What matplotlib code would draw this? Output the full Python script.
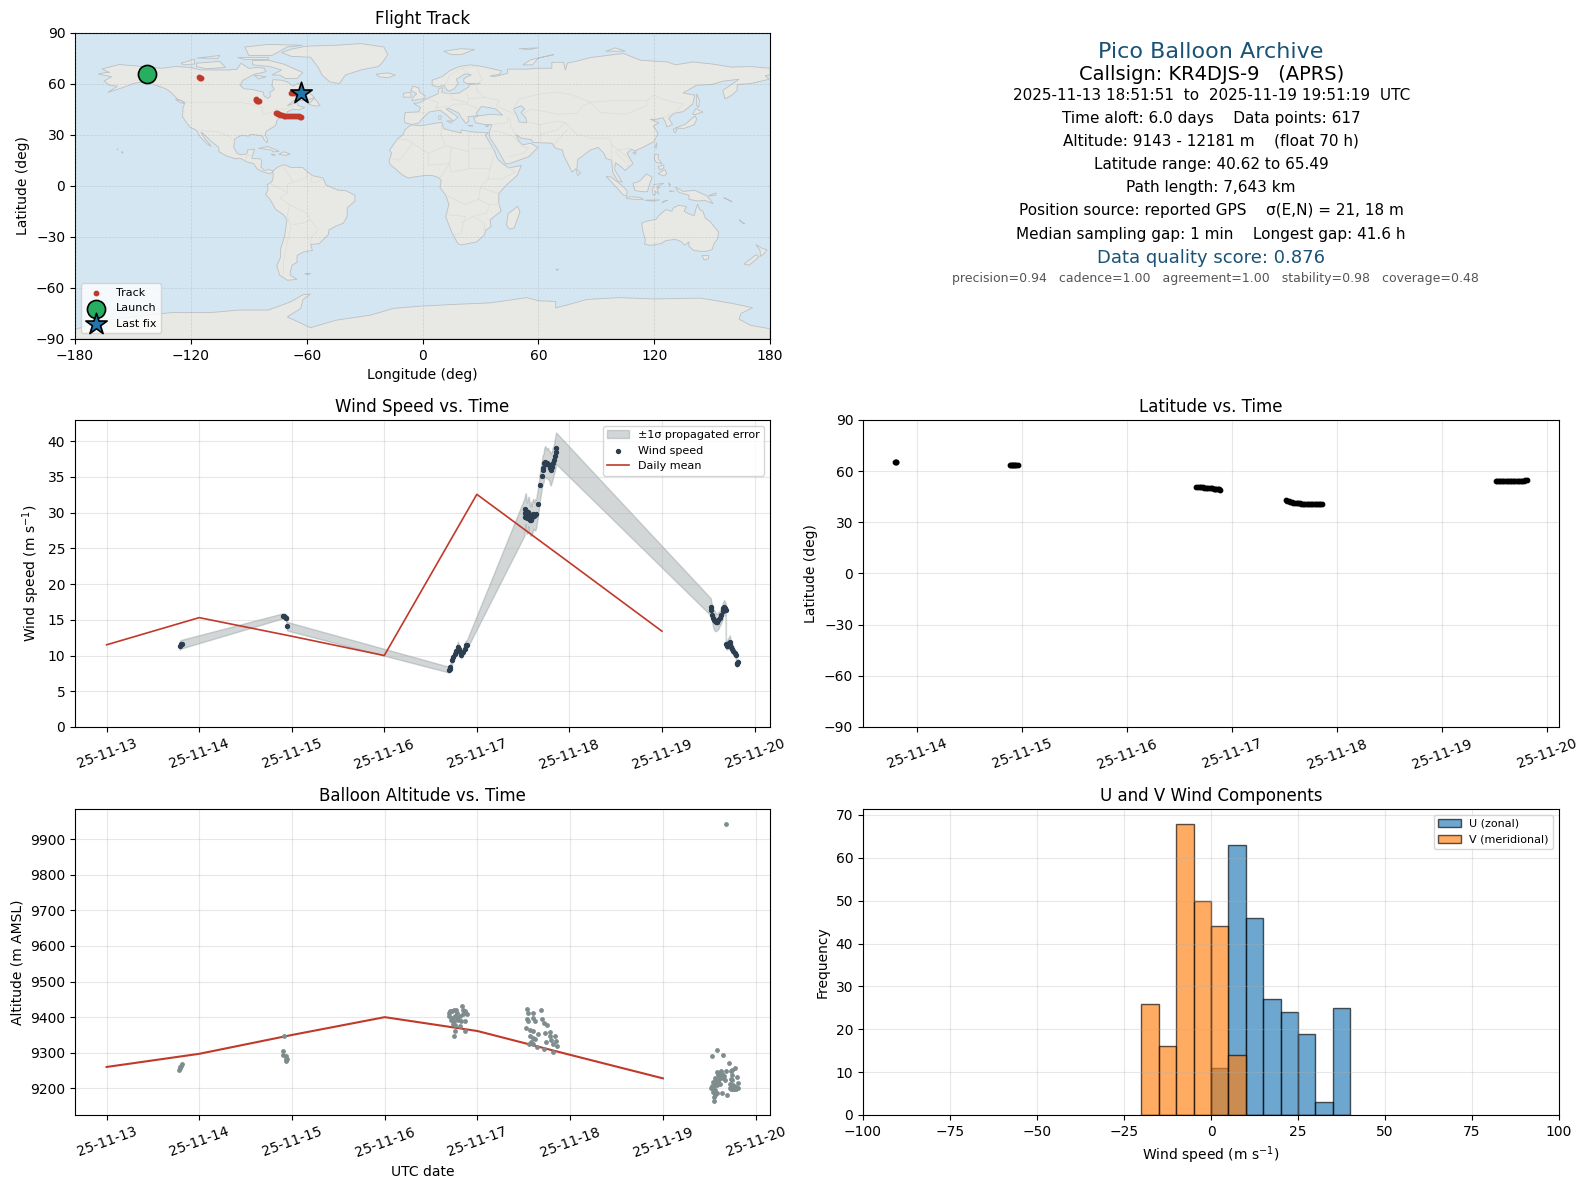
from datetime import datetime

import matplotlib
matplotlib.use('Agg')
import matplotlib.dates as mdates
import matplotlib.pyplot as plt
import numpy as np
from matplotlib.patches import Polygon

# map outlines, (lon, lat), read by eye
north_america = [(-168, 65.6), (-164, 66.5), (-162, 66.5), (-166, 68.5), (-163, 69.5), (-157, 71.2), (-150, 70.5), (-141, 69.7), (-135, 69), (-128, 70), (-120, 69.5), (-115, 68), (-108, 68), (-100, 68), (-96, 68.5), (-94, 72), (-90, 69), (-85, 69.5), (-82, 69), (-81, 67), (-87, 65.5), (-93, 62), (-94.5, 59), (-92.5, 57), (-88, 56.5), (-82.5, 55), (-82, 52.5), (-80, 51.3), (-78.8, 52.5), (-79, 55), (-76.7, 56.5), (-78, 58.8), (-77.5, 62.3), (-73, 62), (-70, 61), (-67, 58.5), (-64.5, 60.3), (-61.5, 56.5), (-57, 53), (-56, 51.8), (-60, 50.2), (-66.5, 50.2), (-70, 47), (-65, 49), (-64.5, 47), (-61, 46), (-64, 44.5), (-67, 45), (-70, 43.5), (-70.5, 41.7), (-74, 40.6), (-75.5, 38), (-76, 35.5), (-78, 34), (-81, 32), (-81.5, 30), (-80.2, 27), (-80.5, 25.2), (-82, 27), (-83, 29.2), (-85, 29.7), (-89, 30.2), (-90, 29.2), (-94, 29.5), (-97.2, 27.5), (-97.8, 22.5), (-96, 19), (-94, 18.2), (-91, 18.7), (-90.5, 21), (-87, 21.5), (-88, 18), (-88.5, 16), (-84, 15.8), (-83.3, 14.8), (-83.7, 11), (-82, 9), (-79.5, 9.5), (-77.4, 8.6), (-78, 7.5), (-80, 7.3), (-81.5, 7.8), (-83, 8.3), (-85.7, 10), (-87.5, 13), (-91, 14), (-94.5, 16.2), (-97, 15.9), (-101.5, 17.5), (-105.5, 20), (-105.5, 22.5), (-109, 25.7), (-112.5, 29.5), (-114.7, 31.5), (-113, 28), (-110, 24), (-109.5, 23), (-112, 25), (-115, 28.5), (-117, 32.5), (-120.5, 34.5), (-122.5, 37.5), (-124.3, 40.5), (-124, 46), (-123, 49), (-127, 51), (-130, 54.5), (-133, 57), (-137, 58.5), (-140, 59.8), (-146, 60.8), (-150, 60), (-152, 59), (-157, 57), (-163, 54.8), (-158, 58.5), (-162, 59), (-165, 61.5), (-161, 64)]
greenland = [(-73, 78.2), (-68, 80.2), (-60, 82), (-45, 82.5), (-32, 83.5), (-20, 81.5), (-18, 77), (-21, 72), (-23, 70), (-32, 68), (-40, 65), (-43, 60), (-48, 61), (-52, 65), (-54, 69.5), (-58, 75.5), (-68, 76)]
south_america = [(-77.5, 8.6), (-75, 11), (-71.5, 12.4), (-68, 10.7), (-62, 10.7), (-60, 8.5), (-57, 6), (-51.5, 4.5), (-50, 0.5), (-44, -2.5), (-39.5, -3), (-35, -5.5), (-35, -9), (-39, -13), (-39, -18), (-41, -22), (-45, -23.8), (-48.5, -26), (-48.7, -28.5), (-53.5, -34), (-58, -34.5), (-57, -38), (-62, -39), (-65, -41), (-65, -45), (-67.5, -46.5), (-68.5, -50.5), (-68.5, -52.5), (-65, -55), (-70, -55.5), (-74, -52.5), (-75.5, -47), (-73.5, -42), (-73.5, -37), (-71.5, -30), (-70.2, -20), (-72, -17), (-76, -14), (-79, -8), (-81.3, -5), (-80, -2.5), (-80.5, 0.5), (-78, 2.5), (-77.3, 5)]
africa = [(-6, 35.8), (-1, 35.2), (10, 37.3), (11, 33.5), (15, 32.3), (20, 31), (20, 32.8), (25, 31.7), (32, 31.2), (34.3, 31.2), (32.5, 29.8), (35.5, 24), (37, 21), (39, 15.5), (43, 11.7), (44.5, 10.5), (51.2, 11.9), (49, 6), (44, 1), (39.5, -4.5), (39.5, -10), (40.7, -15), (35, -20), (35.5, -24), (32.8, -26), (32, -29), (28, -33), (20, -34.8), (18.3, -34), (15, -27), (12, -18), (13.7, -11), (12, -5.5), (9, -1), (9.7, 3), (8.5, 4.7), (5, 6), (1, 6), (-4, 5.2), (-7.5, 4.5), (-11, 6.8), (-13.5, 9.5), (-16.8, 12.5), (-17.3, 14.7), (-16, 19), (-17, 21), (-13, 27.5), (-10, 30), (-9, 33)]
eurasia = [(-9.5, 38.7), (-9, 43), (-2, 43.4), (-1, 46), (-4.7, 48.4), (-1.5, 48.7), (2, 51), (4, 52), (8, 54), (8.5, 57), (10.5, 57.7), (10, 54.8), (14, 54), (19, 54.5), (21, 56), (24, 58), (24, 59.4), (30, 60), (23, 60), (21.3, 61), (21.5, 63), (25.3, 65.2), (22, 65.7), (17.5, 62.5), (18.5, 60), (16.5, 57), (14, 55.5), (12.8, 56), (11, 59), (8, 58), (5, 59), (5, 62), (10, 64), (14, 67.5), (19, 70), (25, 71), (31, 70), (41, 67.5), (40, 65.5), (35, 64.5), (37, 64), (44, 66), (44, 68.5), (54, 68.5), (60, 69), (67, 69), (67, 72.5), (73, 72.5), (74, 68), (75, 72), (81, 73.5), (87, 75.3), (104, 77.7), (113, 73.7), (127, 72.7), (131, 71), (140, 72.7), (150, 71.5), (160, 69.7), (170, 70), (180, 69), (180, 65), (177.5, 64.7), (179.5, 62.5), (170, 60), (163, 59.5), (163, 56), (160, 53), (156.7, 51), (155.5, 56), (164, 62.5), (156, 61.5), (150, 59.5), (142, 59), (135, 54.5), (141, 53.2), (140, 48), (135, 43.5), (130, 42.5), (127.5, 39.5), (129.5, 36), (126.5, 34.5), (126, 37), (124.5, 40), (121, 39), (118, 39), (122.5, 37), (119.5, 35), (122, 31), (120, 26), (114, 22.5), (110, 20.5), (108, 21.5), (106, 19), (109, 13), (105, 9), (103, 11), (100, 13.5), (99.5, 9.5), (103.5, 2), (101, 3), (98.5, 8), (98, 15), (95, 16), (94, 19), (91, 22.5), (87, 21), (80.5, 15.5), (80, 10.5), (77.5, 8), (73, 18), (72.5, 21), (69, 22), (67, 25), (62, 25.2), (57, 25.5), (56.5, 27), (51, 28), (48.5, 30), (50, 26), (52, 24), (56, 25), (59.8, 22.5), (55, 17), (45, 13), (43, 12.8), (39, 21), (35, 28), (34.5, 31.3), (36, 36), (32, 36), (27.5, 37), (26.5, 40), (29, 41), (35, 42), (41.5, 41.5), (38, 45), (34, 46), (30.5, 46.5), (28, 43), (28.5, 41.2), (23.5, 40.5), (24, 38), (22.5, 36.5), (19.5, 41), (19, 42.5), (13.7, 45.5), (12.3, 45), (18.5, 40.2), (16, 38), (12, 42), (9, 44.4), (3.5, 43.3), (0, 39.5), (-2, 36.8), (-5.5, 36), (-9, 37)]
australia = [(113.5, -22), (114, -26), (115.5, -32), (115, -34.3), (118, -35), (123.5, -34), (126, -32.2), (131, -31.5), (134, -32.8), (135.7, -35), (138, -33), (138, -35.5), (140.5, -38), (144, -38.5), (147, -38.5), (150, -37.5), (151, -34), (153, -31), (153.3, -27), (151, -24), (149, -21), (146.5, -19), (145.3, -15), (143.5, -14), (142.5, -10.8), (141.5, -14), (140.8, -17.5), (139, -17), (135.5, -15), (136.8, -12.2), (132.5, -11.5), (130, -13), (129, -15), (126, -14), (122.5, -17.5), (121, -19.7), (116.5, -20.7)]
antarctica = [(-180, -84.3), (-163, -79), (-150, -77), (-130, -74.5), (-110, -74.5), (-95, -73), (-80, -73), (-75, -71), (-68, -68), (-62, -64), (-58, -63.5), (-62, -67), (-63, -72), (-70, -77), (-58, -83.4), (-45, -79), (-27, -76), (-15, -72), (-1, -70.7), (20, -69.5), (35, -68.8), (54, -65.7), (60, -67.5), (69, -68), (69, -71.7), (75, -70), (85, -66.8), (102, -65.7), (120, -66.5), (144, -66), (160, -69), (171, -71.6), (165, -75), (164, -78.3), (170, -82), (180, -84), (180, -90), (-180, -90)]
islands = [
    [(-80, 73.7), (-72, 71.5), (-67, 69), (-62, 66.5), (-65, 63), (-71, 63), (-74, 65), (-78, 65), (-73, 68), (-79, 70), (-88, 71), (-88, 73.5)],
    [(-117, 72), (-105, 73), (-102, 69.5), (-112, 68.7), (-117, 70)],
    [(-90, 76.5), (-78, 76.5), (-70, 81.5), (-62, 82.5), (-80, 83), (-92, 81.5)],
    [(-125, 72), (-118, 74.3), (-118, 71.5), (-124, 71)],
    [(-96, 75.5), (-80, 75.5), (-80, 74.5), (-92, 74.5)],
    [(-117, 75), (-105, 76.5), (-106, 74.8)],
    [(-87, 65), (-81, 64), (-85, 62.8)],
    [(-59, 47.8), (-56, 51.5), (-53, 47), (-55.5, 46.8)],
    [(-85, 22), (-80, 23), (-74.2, 20.2), (-77.5, 19.9), (-78, 20.9)],
    [(-74.4, 18.5), (-72, 20), (-68.5, 18.5), (-71, 17.8)],
    [(-78.3, 18.4), (-76.3, 18.2), (-77, 17.8)],
    [(-128, 50.8), (-125, 50), (-123.5, 48.4), (-125.5, 48.8)],
    [(-156, 20), (-155, 19.8), (-155.6, 19)],
    [(-158.2, 21.6), (-157.7, 21.5), (-158, 21.2)],
    [(-61, -51.5), (-58, -51.5), (-59.5, -52.3)],
    [(-5.5, 50), (1, 51.2), (1.5, 52.8), (-1.5, 55), (-2, 57.5), (-5, 58.5), (-6, 56), (-3, 54), (-5, 52)],
    [(-10, 52), (-6, 52), (-6, 55), (-10, 54.2)],
    [(-24, 65.5), (-18, 66.3), (-14, 65), (-18, 63.4), (-22.5, 64)],
    [(11, 79), (20, 80.5), (27, 80), (20, 77), (15, 77)],
    [(52, 71), (56, 74), (68, 77), (60, 75), (57, 71)],
    [(95, 79), (105, 79), (100, 81)],
    [(50, 80.5), (60, 81), (55, 80)],
    [(142, 54), (143.5, 50), (143, 46), (142, 47), (142, 51)],
    [(140, 42), (141.5, 45.3), (145.3, 43.3), (141, 41.8)],
    [(131, 34), (136, 36), (140, 40), (141.3, 41), (142, 39), (140.8, 36), (139, 35), (135.5, 33.7), (132, 33.8)],
    [(130, 33.5), (131.7, 33.2), (131, 31), (130, 32)],
    [(120.2, 23), (121.5, 25.2), (121, 22)],
    [(109, 19.5), (110.8, 20), (110, 18.3)],
    [(120, 16), (120.5, 18.5), (122.2, 18.3), (122, 16), (124, 13), (121, 13.8)],
    [(122, 7), (125.5, 9.7), (126.5, 7), (125, 5.8)],
    [(122, 11), (125, 12.4), (125, 10.5), (123, 9.3)],
    [(95.2, 5.5), (97.5, 5.2), (103.5, 0), (106, -3), (105.8, -5.8), (104, -5.5), (100.5, -1), (98, 2)],
    [(105.3, -6.7), (108.5, -6.5), (112.5, -6.8), (114.5, -8), (110, -8), (106, -7.5)],
    [(109, 1.5), (111, 2), (113, 3.3), (116, 7), (119, 5), (117.7, 1), (116.5, -3.5), (114, -3.5), (110, -2.8)],
    [(119.5, -5.5), (119, -2.5), (120, 0.7), (125, 1.5), (121, -0.8), (123, -1), (121.5, -2), (122.5, -5), (120.5, -3), (120.5, -5.5)],
    [(131, -0.8), (135, -3.3), (141, -2.7), (145.5, -5), (147.5, -6), (150.5, -10.5), (146, -8.5), (143, -9), (138, -8), (138, -5.5), (133, -4), (132, -2.8)],
    [(124, -10), (127, -8.5), (125, -9)],
    [(115, -8.5), (123, -8.3), (119, -9)],
    [(148, -6), (152, -4.2), (152, -5.5)],
    [(156, -7), (160.5, -9.5), (158, -8)],
    [(164, -20), (167, -22.4), (166, -22)],
    [(128, -3), (130.5, -3.2), (128, -3.5)],
    [(127.5, 1.8), (128.5, 0.5), (128, -0.5)],
    [(144.7, -41), (148.3, -41), (148, -43), (146, -43.6)],
    [(172.7, -34.5), (175.5, -36.5), (178.5, -37.7), (176.8, -40), (175, -41.5), (175, -39.5), (174.8, -38)],
    [(172.7, -40.5), (174.3, -41.7), (171, -45), (169, -46.7), (166.5, -46), (170, -43)],
    [(49.3, -12), (50.5, -15.5), (47.5, -24.8), (45, -25.5), (43.5, -23), (44.3, -16.5)],
    [(80, 9.7), (81.8, 7.5), (80.5, 5.9), (79.8, 8)],
    [(12.5, 38), (15.5, 38.2), (15, 36.8)],
    [(8.3, 41), (9.7, 41), (9.5, 39), (8.5, 39)],
    [(23.5, 35.5), (26.2, 35.2), (24.5, 35)],
    [(32.5, 35), (34.5, 35.6), (33.5, 34.6)],
    [(69, -49), (70.5, -49), (70, -49.7)],
]
caspian = [(47, 45), (51, 47), (53, 45), (51, 43), (53.5, 40), (54, 37), (50, 37.5), (49, 41)]
borders = [
    [(-123, 49), (-95, 49), (-89, 48), (-83, 46), (-82.5, 42), (-79, 43), (-75, 45), (-71, 45), (-67.5, 47), (-67, 45)],
    [(-141, 69.7), (-141, 60), (-135, 58.5)],
    [(-117, 32.5), (-106.5, 31.8), (-101, 29.7), (-97.2, 26)],
    [(-92, 14.5), (-91, 17.8), (-89, 17.9), (-88.5, 15.8)],
    [(-70, -18), (-69, -11), (-74, -7), (-70, -4), (-70, 1), (-67, 2), (-60, 5), (-60, 8.5)],
    [(-58, -34), (-57.5, -30), (-54, -26), (-58, -20), (-60, -16), (-69, -11)],
    [(-70, -18), (-68, -24), (-70, -33), (-72, -45), (-72, -52)],
    [(-79, 1.5), (-75, -1), (-70, -4)],
    [(-72, 11.5), (-67, 2)],
    [(-58, -20), (-62, -22), (-67, -22.8)],
    [(-57, 6), (-58, 2), (-54, 2.3), (-51.5, 4.5)],
    [(-8.7, 27.5), (-13, 27.5)],
    [(-8.7, 27.5), (3, 19), (12, 23.5), (24, 20), (24, 31)],
    [(12, 23.5), (9.5, 30), (10, 37)],
    [(-5, 25), (-12, 15), (-16, 16)],
    [(3, 19), (3, 12), (14, 13), (15, 23)],
    [(14, 13), (9, 4.5)],
    [(24, 20), (24, 10), (15, 8), (14, 13)],
    [(24, 10), (35, 10), (37, 18)],
    [(25, 22), (37, 22)],
    [(35, 10), (34, 4), (41, 4), (48, 8), (44, 11)],
    [(34, 4), (30, -1), (29, -8), (22, -11), (13, -6)],
    [(30, -1), (39, -4.5)],
    [(29, -8), (34, -11), (40, -10.7)],
    [(22, -18), (12, -17)],
    [(22, -18), (20, -28), (16.5, -28.5)],
    [(20, -22), (26, -18), (33, -16), (35, -11)],
    [(26, -18), (32, -22), (32, -26)],
    [(28, 60), (28, 56), (32, 52), (40, 50), (38, 47), (48, 42), (47, 45), (50, 51), (61, 54), (70, 55), (77, 53.5), (87, 49), (98, 50), (107, 50), (116, 50), (120, 53), (127, 50), (135, 48), (131, 43)],
    [(87, 49), (92, 43), (105, 42), (112, 45), (116, 47), (116, 50)],
    [(52, 42), (56, 45), (61, 44), (70, 42), (80, 42.5), (83, 47), (87, 49)],
    [(74, 37), (80, 30), (88, 28), (97, 28), (98, 24), (101, 21), (107, 22)],
    [(61, 25), (61, 30), (61, 36), (54, 37.5)],
    [(61, 36), (70, 38), (74, 37)],
    [(61, 30), (70, 33), (74, 37)],
    [(68, 24), (71, 28), (75, 33)],
    [(45, 40), (46, 34), (48.5, 30)],
    [(44, 40), (44, 37), (36, 36)],
    [(36, 32), (39, 32), (47, 29), (52, 23), (55, 22), (52, 19), (44, 17)],
    [(-1.7, 43.4), (3, 42.5)],
    [(2.5, 51), (8, 49), (7, 46), (7.5, 44)],
    [(7, 46), (13.5, 46.5), (17, 48), (23, 48), (28, 45.5), (29, 45)],
    [(8, 54.8), (14.5, 54), (15, 51), (23, 49)],
    [(23, 54), (24, 51), (23, 48)],
    [(24, 51), (32, 52)],
    [(12, 59), (14, 65), (20, 69), (28, 70)],
    [(20, 69), (24, 66)],
    [(28, 70), (31, 62), (28, 60)],
    [(98, 24), (98, 15), (99.5, 10)],
    [(101, 21), (105, 18), (107, 15), (106, 11)],
    [(100, 20), (105, 14)],
    [(124.5, 40), (130, 42.5)],
]

# flight track
track_lon = [-142.5, -116, -115.5, -114.8, -86.5, -86, -85.5, -85, -84.5,
             -76, -75.5, -75, -74.5, -74, -73, -72, -71, -70, -69, -68, -67, -66, -65, -64, -63.5, -63,
             -68, -67, -66, -64.5, -63]
track_lat = [65.45, 63.7, 63.4, 63.3, 51, 50.5, 50, 49.6, 49.6,
             43, 42.6, 42.3, 42, 41.6, 41.4, 41.2, 41.1, 41, 40.9, 40.8, 40.75, 40.7, 40.7, 40.7, 40.65, 40.6,
             54.4, 54.3, 54.2, 54, 54.6]
launch = (-142.5, 65.45)
last_fix = (-63, 54.6)

# times are fractional days of November 2025
mean_days = [13, 14, 15, 16, 17, 18, 19]
mean_speed = [11.5, 15.3, 12.7, 10.0, 32.55, 23.0, 13.4]
mean_alt = [9260, 9297, 9350, 9400, 9361, 9294, 9228]

wind_day = [13.79, 13.80, 13.81,
            14.905, 14.915, 14.925, 14.935, 14.94, 14.95,
            16.698, 16.705, 16.715, 16.734, 16.745, 16.759, 16.775, 16.795, 16.81, 16.82, 16.831, 16.85, 16.867, 16.88, 16.892,
            17.515, 17.52, 17.525, 17.53, 17.535, 17.54, 17.55, 17.555, 17.56, 17.57, 17.575, 17.585, 17.59, 17.60, 17.61, 17.62, 17.63, 17.64,
            17.658, 17.684, 17.70, 17.71, 17.72, 17.73, 17.74, 17.75, 17.76, 17.77, 17.78, 17.79, 17.80, 17.81, 17.82, 17.83, 17.84, 17.85, 17.856,
            19.528, 19.535, 19.545, 19.553, 19.56, 19.57, 19.58, 19.59, 19.60, 19.61, 19.625, 19.64, 19.655, 19.663, 19.672, 19.68, 19.69,
            19.691, 19.70, 19.71, 19.72, 19.733, 19.74, 19.75, 19.76, 19.772, 19.785, 19.798, 19.808, 19.815, 19.826]
wind_speed = [11.4, 11.55, 11.6,
              15.55, 15.5, 15.4, 15.3, 15.25, 14.1,
              8.03, 8.15, 8.4, 9.33, 9.8, 10.27, 10.6, 11.2, 10.9, 10.5, 10.13, 10.5, 10.97, 11.5, 11.53,
              29.4, 30.0, 30.5, 30.2, 29.6, 29.2, 29.5, 30.1, 29.8, 29.3, 28.9, 29.1, 28.95, 29.4, 29.8, 29.5, 29.7, 29.8,
              31.25, 33.8, 35.07, 36.0, 36.2, 37.0, 37.1, 36.8, 36.95, 36.8, 36.6, 36.3, 36.0, 36.4, 36.9, 37.3, 37.9, 38.5, 39.0,
              16.8, 16.3, 15.7, 15.3, 15.0, 14.85, 14.7, 14.65, 14.7, 14.9, 15.2, 15.6, 16.2, 16.6, 16.85, 16.6, 16.35,
              11.6, 11.4, 11.6, 11.7, 11.95, 11.6, 11.2, 10.9, 10.6, 10.35, 10.1, 8.8, 8.95, 9.1]
wind_sigma = [0.6, 0.6, 0.6,
              0.35, 0.35, 0.35, 0.35, 0.35, 0.6,
              0.4, 0.4, 0.45, 0.5, 0.5, 0.55, 0.55, 0.75, 0.5, 0.6, 0.5, 0.5, 0.6, 0.6, 0.6,
              2.6, 2.4, 2.1, 2.5, 2.3, 2.2, 2.3, 2.0, 2.4, 2.2, 2.0, 2.4, 1.9, 2.3, 2.1, 1.9, 2.2, 2.0,
              2.0, 1.9, 1.9, 2.0, 2.0, 2.1, 2.2, 2.0, 2.1, 2.2, 2.0, 2.3, 2.2, 2.1, 2.2, 2.0, 2.2, 2.3, 2.2,
              1.2, 1.1, 1.2, 1.3, 1.3, 1.4, 1.3, 1.2, 1.1, 1.2, 1.0, 1.1, 1.0, 0.9, 0.9, 0.9, 0.9,
              0.6, 0.6, 0.7, 0.8, 0.9, 0.7, 0.6, 0.6, 0.6, 0.5, 0.5, 0.4, 0.4, 0.4]

lat_day = [13.786, 13.795, 13.80,
           14.886, 14.895, 14.905, 14.915, 14.925, 14.935, 14.945, 14.96,
           16.66, 16.675, 16.69, 16.705, 16.72, 16.735, 16.75, 16.765, 16.78, 16.795, 16.81, 16.825, 16.84, 16.85, 16.865, 16.875, 16.885,
           17.51, 17.525, 17.54, 17.555, 17.57, 17.585, 17.60, 17.615, 17.63, 17.645, 17.66, 17.675, 17.69, 17.705, 17.72, 17.735, 17.75, 17.765, 17.78, 17.795, 17.81, 17.825, 17.84, 17.856,
           19.511, 19.525, 19.54, 19.555, 19.57, 19.585, 19.60, 19.615, 19.63, 19.645, 19.66, 19.675, 19.69, 19.705, 19.72, 19.735, 19.75, 19.765, 19.78, 19.795, 19.813]
lat_val = [65.3, 65.3, 65.3,
           63.5, 63.55, 63.6, 63.55, 63.5, 63.5, 63.5, 63.4,
           50.7, 50.7, 50.7, 50.6, 50.5, 50.35, 50.2, 50.15, 50.1, 50.0, 49.9, 49.8, 49.7, 49.55, 49.4, 49.3, 49.2,
           43.1, 42.8, 42.5, 42.2, 41.8, 41.6, 41.5, 41.35, 41.2, 41.1, 41.0, 40.9, 40.8, 40.75, 40.7, 40.65, 40.65, 40.65, 40.65, 40.62, 40.62, 40.62, 40.65, 40.7,
           54.3, 54.3, 54.3, 54.3, 54.3, 54.3, 54.3, 54.3, 54.3, 54.3, 54.3, 54.3, 54.3, 54.3, 54.35, 54.35, 54.4, 54.45, 54.5, 54.6, 54.9]

alt_day = [13.785, 13.79, 13.797, 13.803, 13.81,
           14.914, 14.903, 14.903, 14.932, 14.946, 14.939, 14.932,
           16.688, 16.706, 16.724, 16.742, 16.767, 16.781, 16.831, 16.849, 16.867, 16.892, 16.695, 16.724, 16.753, 16.778, 16.813, 16.849, 16.713, 16.742, 16.785, 16.82, 16.86, 16.731, 16.753, 16.813, 16.753, 16.86, 16.742,
           17.531, 17.542, 17.603, 17.685, 17.531, 17.549, 17.603, 17.62, 17.70, 17.713, 17.749, 17.524, 17.567, 17.603, 17.656, 17.728, 17.785, 17.833, 17.567, 17.596, 17.62, 17.578, 17.56, 17.735, 17.796, 17.85, 17.818, 17.861, 17.64, 17.72, 17.818, 17.60, 17.782,
           19.678, 19.527, 19.653, 19.588, 19.714, 19.778, 19.75, 19.732, 19.678, 19.624, 19.581, 19.635, 19.599, 19.66, 19.742, 19.797, 19.563, 19.617, 19.671, 19.742, 19.599, 19.545, 19.806, 19.581, 19.617, 19.725, 19.76, 19.527, 19.58, 19.786, 19.52, 19.76, 19.814, 19.725, 19.563, 19.538, 19.581, 19.563, 19.642, 19.693, 19.552, 19.549,
           19.59, 19.605, 19.615, 19.63, 19.645, 19.575, 19.565, 19.555, 19.745, 19.765, 19.79, 19.77, 19.735, 19.545, 19.535, 19.57, 19.61, 19.73]
alt_val = [9251, 9256, 9259, 9264, 9268,
           9348, 9306, 9293, 9292, 9283, 9277, 9281,
           9413, 9418, 9417, 9420, 9421, 9413, 9431, 9420, 9416, 9410, 9404, 9399, 9404, 9397, 9404, 9408, 9391, 9390, 9391, 9390, 9388, 9381, 9379, 9376, 9361, 9362, 9347,
           9422, 9413, 9411, 9419, 9394, 9388, 9397, 9390, 9394, 9383, 9378, 9369, 9365, 9360, 9353, 9355, 9357, 9348, 9348, 9342, 9339, 9330, 9325, 9331, 9336, 9334, 9325, 9320, 9316, 9311, 9302, 9325, 9348,
           9943, 9291, 9295, 9308, 9272, 9256, 9251, 9249, 9248, 9248, 9246, 9240, 9237, 9234, 9237, 9231, 9228, 9228, 9223, 9223, 9221, 9217, 9214, 9214, 9212, 9212, 9209, 9206, 9208, 9203, 9202, 9197, 9200, 9200, 9195, 9191, 9186, 9181, 9186, 9181, 9175, 9164,
           9243, 9238, 9244, 9232, 9228, 9222, 9213, 9206, 9206, 9204, 9199, 9197, 9198, 9199, 9204, 9214, 9226, 9226]

bin_left = [-20, -15, -10, -5, 0, 5, 10, 15, 20, 25, 30, 35]
u_counts = [0, 0, 0, 0, 11, 63, 46, 27, 24, 19, 3, 25]
v_counts = [26, 16, 68, 50, 44, 14, 0, 0, 0, 0, 0, 0]

W, H = 1587, 1189
DARK = '#2c3e50'
GREY = '#7f8c8d'
RED = '#c0392b'
NAVY = '#1a5276'


def to_num(days):
    return mdates.date2num(datetime(2025, 11, 1)) + np.array(days, dtype=float) - 1


def make_axes(left, top, right, bottom):
    return fig.add_axes([left / W, 1 - bottom / H, (right - left) / W, (bottom - top) / H])


def date_axis(ax):
    ax.xaxis.set_major_locator(mdates.DayLocator())
    ax.xaxis.set_major_formatter(mdates.DateFormatter('%y-%m-%d'))
    ax.tick_params(axis='x', labelrotation=20)
    ax.grid(True, alpha=0.3)


fig = plt.figure(figsize=(W / 100, H / 100), dpi=100)

# map
ax = make_axes(75, 32.5, 770, 339)
ax.set_facecolor('#d4e6f1')
for shape in [north_america, greenland, south_america, africa, eurasia, australia, antarctica] + islands:
    ax.add_patch(Polygon(shape, closed=True, facecolor='#e8e8e4', edgecolor='#bcc0c2', linewidth=0.6, zorder=1))
ax.add_patch(Polygon(caspian, closed=True, facecolor='#d4e6f1', edgecolor='#bcc0c2', linewidth=0.6, zorder=1))
for line in borders:
    xs, ys = zip(*line)
    ax.plot(xs, ys, color='#dcdcd8', linewidth=0.5, zorder=1.5)
ax.scatter(track_lon, track_lat, s=10, color=RED, zorder=3, label='Track')
ax.scatter(*launch, s=170, color='#27ae60', edgecolors='black', linewidths=1.2, zorder=4, label='Launch')
ax.scatter(*last_fix, s=260, marker='*', color='#2176ae', edgecolors='black', linewidths=1.2, zorder=5, label='Last fix')
ax.set_xlim(-180, 180)
ax.set_ylim(-90, 90)
ax.set_xticks(np.arange(-180, 181, 60))
ax.set_yticks(np.arange(-90, 91, 30))
ax.grid(True, linestyle='--', color='grey', linewidth=0.5, alpha=0.25, zorder=2)
ax.set_axisbelow(False)
ax.set_title('Flight Track', fontsize=12)
ax.set_xlabel('Longitude (deg)')
ax.set_ylabel('Latitude (deg)')
ax.legend(loc='lower left', fontsize=8, labelspacing=0.5)

# summary text
ax = make_axes(863, 31.5, 1559, 338)
ax.axis('off')
summary = [
    ('Pico Balloon Archive', 52, 0, 16, NAVY),
    ('Callsign: KR4DJS-9   (APRS)', 74.5, 1, 14, 'black'),
    ('2025-11-13 18:51:51  to  2025-11-19 19:51:19  UTC', 95.5, 1, 11, 'black'),
    ('Time aloft: 6.0 days    Data points: 617', 118.5, 0, 11, 'black'),
    ('Altitude: 9143 - 12181 m    (float 70 h)', 141.5, 0, 11, 'black'),
    ('Latitude range: 40.62 to 65.49', 164.5, 0, 11, 'black'),
    ('Path length: 7,643 km', 187.5, 0, 11, 'black'),
    ('Position source: reported GPS    σ(E,N) = 21, 18 m', 210.5, 0, 11, 'black'),
    ('Median sampling gap: 1 min    Longest gap: 41.6 h', 234, 0, 11, 'black'),
    ('Data quality score: 0.876', 258, 0, 13, NAVY),
    ('precision=0.94   cadence=1.00   agreement=1.00   stability=0.98   coverage=0.48', 278.5, 4, 9, '#555555'),
]
for label, ypx, xshift, size, colour in summary:
    ax.text(0.5 + xshift / 696, (338 - ypx) / 306.5, label, transform=ax.transAxes, ha='center', va='center', fontsize=size, color=colour)

# wind speed
ax = make_axes(75, 420, 770, 727)
wx = to_num(wind_day)
wv = np.array(wind_speed)
ws = np.array(wind_sigma)
ax.fill_between(wx, wv - ws, wv + ws, color=GREY, alpha=0.35, label='±1σ propagated error')
ax.scatter(wx, wv, s=8, color=DARK, zorder=3, label='Wind speed')
ax.plot(to_num(mean_days), mean_speed, color=RED, linewidth=1.2, label='Daily mean')
date_axis(ax)
ax.set_ylim(0, 42.95)
ax.set_title('Wind Speed vs. Time', fontsize=12)
ax.set_ylabel('Wind speed (m s$^{-1}$)')
ax.legend(loc='upper right', fontsize=8)

# latitude
ax = make_axes(863, 420, 1559, 727)
ax.scatter(to_num(lat_day), lat_val, s=10, color='black', zorder=3)
date_axis(ax)
ax.set_ylim(-90, 90)
ax.set_yticks(np.arange(-90, 91, 30))
ax.set_title('Latitude vs. Time', fontsize=12)
ax.set_ylabel('Latitude (deg)')

# altitude
ax = make_axes(75, 809, 770, 1115)
ax.scatter(to_num(alt_day), alt_val, s=6, color=GREY, zorder=3)
ax.plot(to_num(mean_days), mean_alt, color=RED, linewidth=1.5, zorder=2)
date_axis(ax)
ax.set_ylim(9125, 9985)
ax.set_yticks(np.arange(9200, 9901, 100))
ax.set_title('Balloon Altitude vs. Time', fontsize=12)
ax.set_xlabel('UTC date')
ax.set_ylabel('Altitude (m AMSL)')

# wind components
ax = make_axes(863, 809, 1559, 1115)
ax.bar(bin_left, u_counts, width=5, align='edge', color='#1f77b4', edgecolor='black', alpha=0.65, label='U (zonal)')
ax.bar(bin_left, v_counts, width=5, align='edge', color='#ff7f0e', edgecolor='black', alpha=0.65, label='V (meridional)')
ax.set_xlim(-100, 100)
ax.set_ylim(0, 71.4)
ax.grid(True, alpha=0.3)
ax.set_title('U and V Wind Components', fontsize=12)
ax.set_xlabel('Wind speed (m s$^{-1}$)')
ax.set_ylabel('Frequency')
ax.legend(loc='upper right', fontsize=8)

fig.savefig('out.png', dpi=100)
